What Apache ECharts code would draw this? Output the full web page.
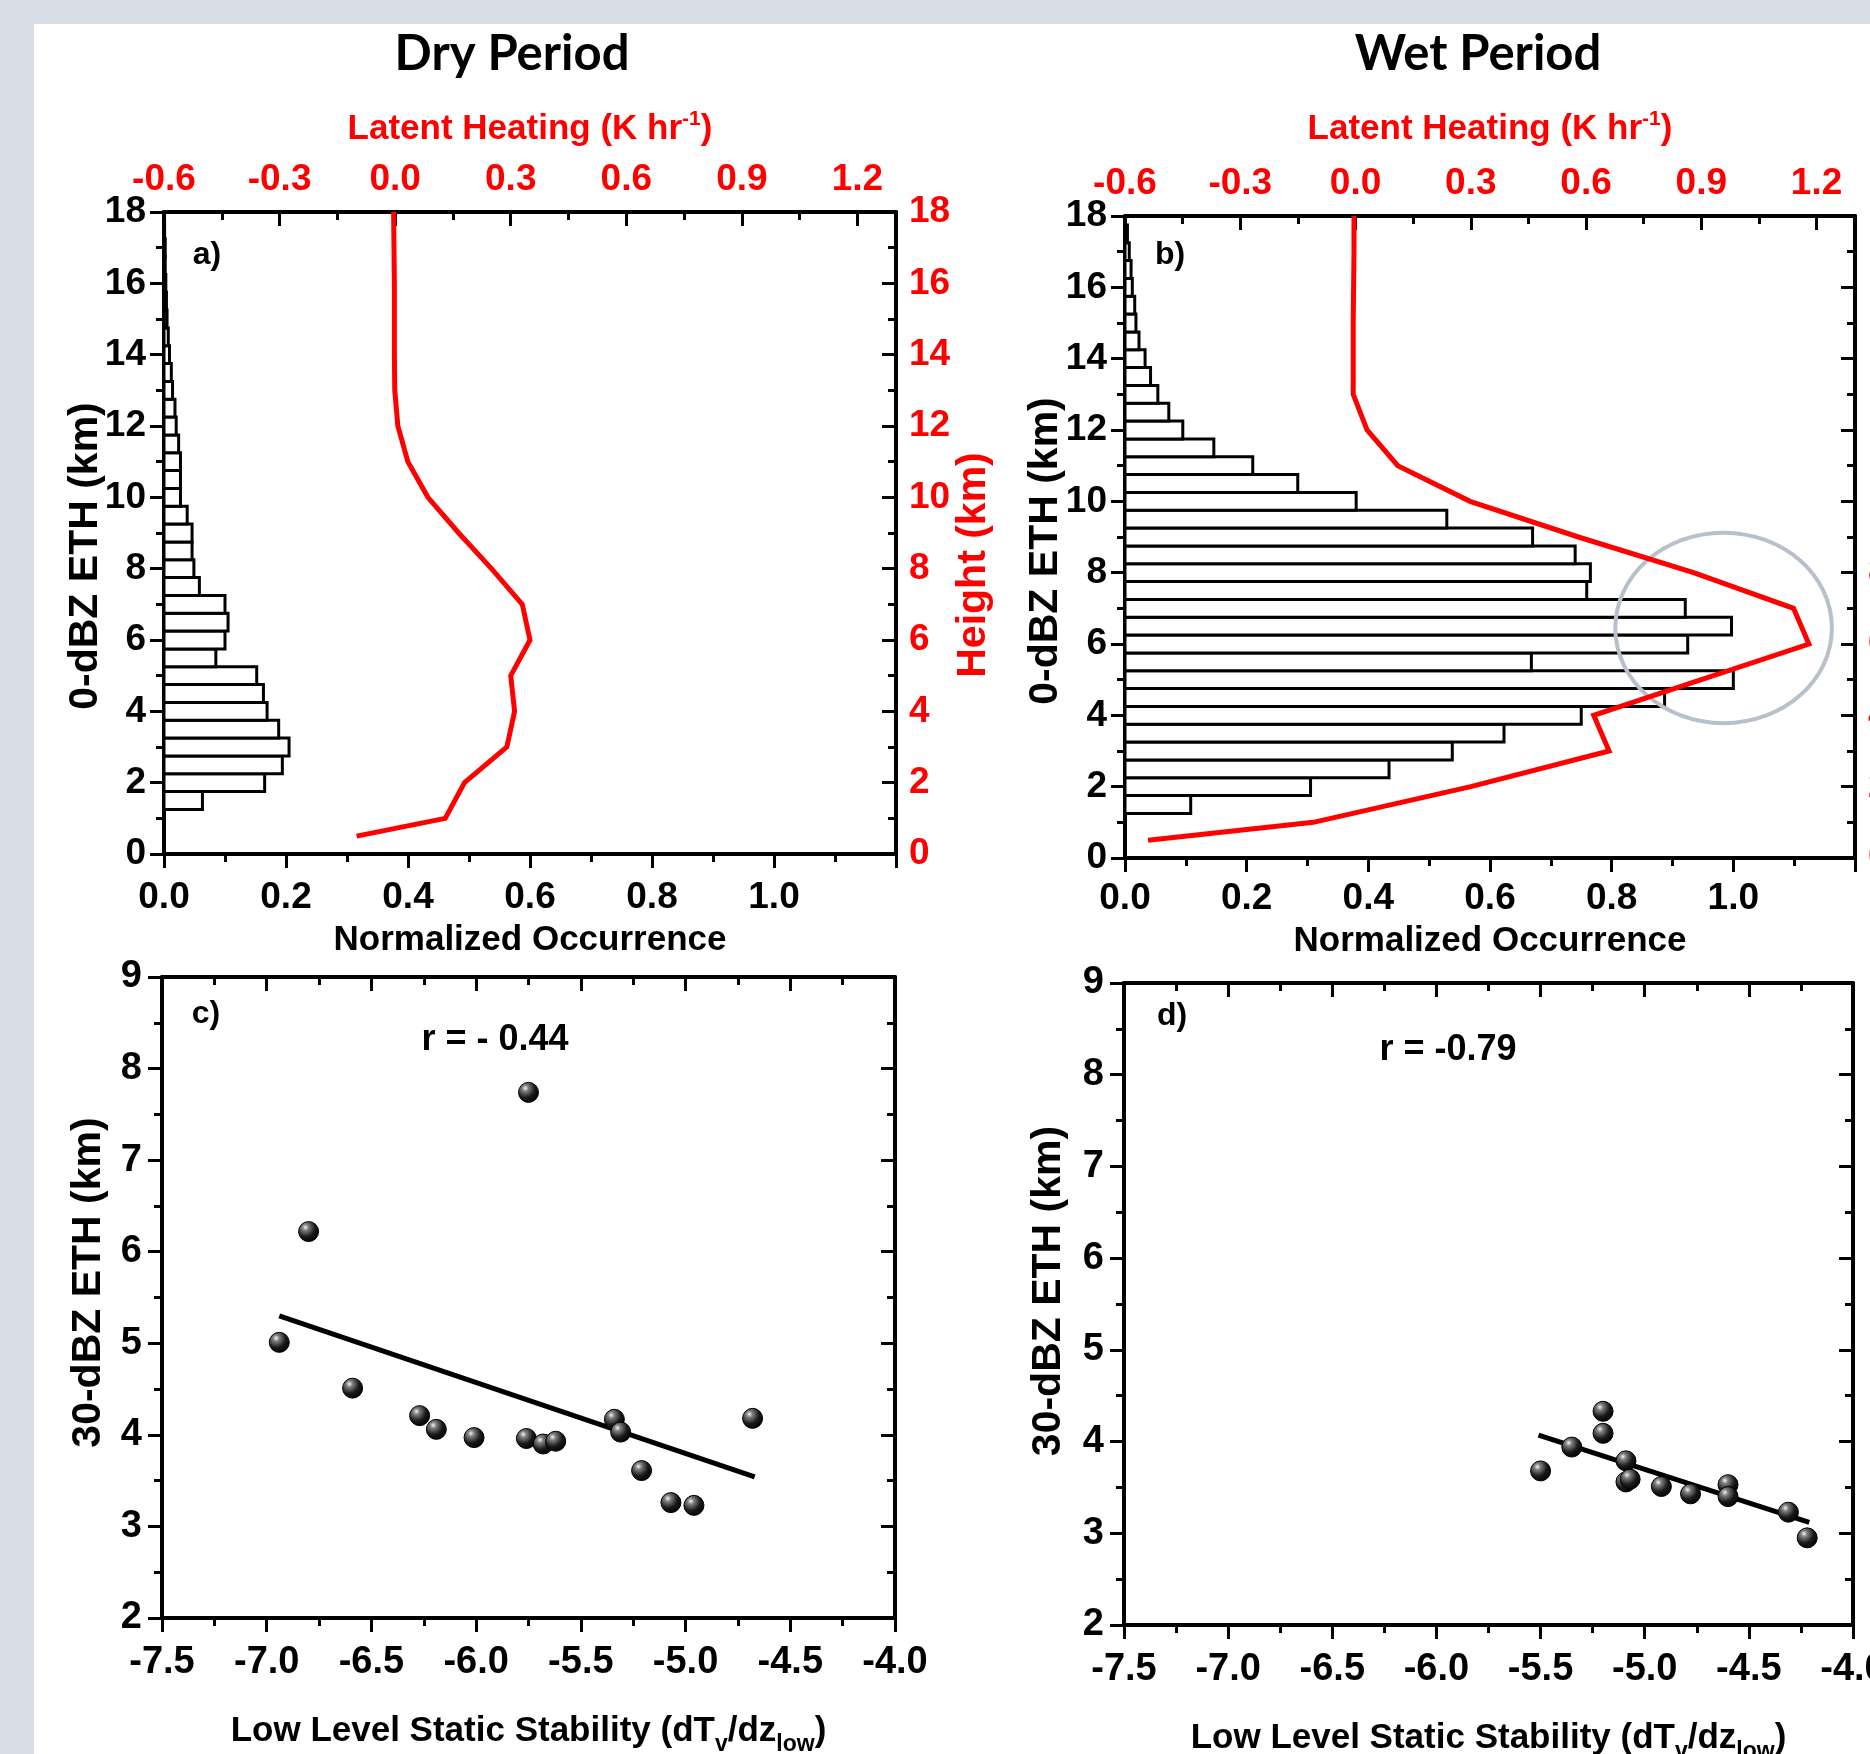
<!DOCTYPE html>
<html>
<head>
<meta charset="utf-8">
<script src="https://cdn.jsdelivr.net/npm/echarts@6/dist/echarts.min.js"></script>
<style>
  body { margin: 0; }
  #wrap { position: relative; width: 1870px; height: 1754px; background: #d9dee6; overflow: hidden; }
  #sheet { position: absolute; left: 34px; top: 24px; right: 0; bottom: 0; background: #ffffff; }
  #main { position: absolute; left: 0; top: 0; width: 1870px; height: 1754px; }
</style>
</head>
<body>
<div id="wrap">
  <div id="sheet"></div>
  <div id="main"></div>
</div>
<script>
// 0-dBZ echo-top height bins (km, bin centres) and normalized occurrence
const binCenters = [1.5, 2.0, 2.5, 3.0, 3.5, 4.0, 4.5, 5.0, 5.5, 6.0, 6.5, 7.0, 7.5, 8.0, 8.5, 9.0, 9.5,
  10.0, 10.5, 11.0, 11.5, 12.0, 12.5, 13.0, 13.5, 14.0, 14.5, 15.0, 15.5, 16.0, 16.5, 17.0, 17.5];
const binHalfWidth = 0.25;
const dryOccurrence = [0.063, 0.165, 0.194, 0.205, 0.188, 0.169, 0.163, 0.152, 0.085, 0.100, 0.105, 0.100, 0.058,
  0.049, 0.046, 0.046, 0.038, 0.027, 0.027, 0.027, 0.024, 0.020, 0.018, 0.014, 0.012, 0.009, 0.007, 0.005,
  0.004, 0.003, 0.002, 0.002, 0.001];
const wetOccurrence = [0.108, 0.305, 0.434, 0.538, 0.623, 0.750, 0.887, 1.000, 0.668, 0.925, 0.997, 0.921, 0.759,
  0.765, 0.740, 0.670, 0.529, 0.380, 0.284, 0.210, 0.146, 0.095, 0.072, 0.054, 0.042, 0.033, 0.023, 0.018,
  0.016, 0.012, 0.010, 0.007, 0.004];

// latent heating profiles (K/hr) against height (km)
const heatingLevels = [0.5, 1, 2, 3, 4, 5, 6, 7, 8, 9, 10, 11, 12, 13, 14, 15, 16, 17, 18];
const dryLatentHeating = [-0.10, 0.13, 0.18, 0.29, 0.31, 0.30, 0.35, 0.33, 0.25, 0.165, 0.085, 0.033, 0.007,
  -0.001, -0.002, -0.002, -0.002, -0.003, -0.004];
const wetLatentHeating = [-0.54, -0.11, 0.30, 0.66, 0.62, 0.90, 1.18, 1.14, 0.88, 0.58, 0.298, 0.11, 0.03,
  -0.006, -0.006, -0.006, -0.005, -0.004, -0.004];

// highlighted region in panel b: centre [occurrence, km] and radii
const ellipseCenter = [0.984, 6.45];
const ellipseRadius = [0.178, 2.67];

// 30-dBZ ETH vs low level static stability
const dryStability = [-6.94, -6.80, -6.59, -6.27, -6.19, -6.01, -5.75, -5.76, -5.68, -5.62, -5.34, -5.31, -5.21, -5.07, -4.96, -4.68];
const dryEth30 = [5.01, 6.22, 4.51, 4.21, 4.06, 3.97, 7.74, 3.96, 3.90, 3.93, 4.17, 4.03, 3.61, 3.26, 3.23, 4.18];
const wetStability = [-5.50, -5.35, -5.20, -5.20, -5.09, -5.09, -5.07, -4.92, -4.78, -4.60, -4.60, -4.31, -4.22];
const wetEth30 = [3.68, 3.94, 4.33, 4.09, 3.79, 3.56, 3.59, 3.51, 3.43, 3.53, 3.40, 3.23, 2.95];
const dryFitX = [-6.94, -4.67];
const dryFitY = [5.30, 3.54];
const wetFitX = [-5.51, -4.21];
const wetFitY = [4.07, 3.12];

const narrow = "'Liberation Sans Narrow', 'Arial Narrow', 'Liberation Sans', sans-serif";
const wide = "'Liberation Sans', Arial, sans-serif";
const red = '#ff0000';

const makeAxis = o => ({
  type: 'value',
  gridIndex: o.grid,
  position: o.position,
  min: o.min,
  max: o.max,
  interval: o.interval,
  name: o.name || '',
  nameLocation: 'middle',
  nameGap: o.nameGap || 0,
  nameRotate: o.nameRotate,
  nameMoveOverlap: false,
  nameTextStyle: o.nameStyle,
  axisLine: { onZero: false, lineStyle: { color: '#000', width: 4 } },
  axisTick: { inside: !!o.inside, length: 14, lineStyle: { color: '#000', width: 3 } },
  minorTick: { show: true, splitNumber: 2, length: 8, lineStyle: { color: '#000', width: 3 } },
  splitLine: { show: false },
  axisLabel: {
    show: o.labels !== false,
    color: o.color || '#000',
    fontFamily: narrow,
    fontWeight: 'bold',
    fontSize: o.fontSize || 37,
    margin: o.margin || 18,
    showMaxLabel: o.hideMax ? false : null,
    formatter: v => v.toFixed(o.digits || 0)
  }
});

const heatingName = {
  rich: {
    t: { fontFamily: narrow, fontWeight: 'bold', fontSize: 35, color: red, lineHeight: 40 },
    sup: { fontFamily: narrow, fontWeight: 'bold', fontSize: 21, color: red, verticalAlign: 'top', lineHeight: 22 }
  }
};
const stabilityName = {
  rich: {
    t: { fontFamily: narrow, fontWeight: 'bold', fontSize: 35, color: '#000', lineHeight: 40 },
    sub: { fontFamily: narrow, fontWeight: 'bold', fontSize: 23, color: '#000', verticalAlign: 'top', padding: [26, 0, 0, 0] }
  }
};
const occName = { fontFamily: narrow, fontWeight: 'bold', fontSize: 35, color: '#000', lineHeight: 40 };
// padding slides a rotated name along its axis (right side = down, left side = up)
const ethName = pad => ({ fontFamily: wide, fontWeight: 'bold', fontSize: 41, color: '#000', lineHeight: 44, padding: pad });
const heightName = { fontFamily: wide, fontWeight: 'bold', fontSize: 41, color: red, lineHeight: 44, padding: [0, 64, 0, 0] };

const profileAxes = (g, p) => ({
  x: [
    makeAxis({ grid: g, position: 'bottom', min: 0, max: 1.2, interval: 0.2, digits: 1, hideMax: true, margin: p.labelMargin,
      name: 'Normalized Occurrence', nameGap: p.bottomGap, nameStyle: occName }),
    makeAxis({ grid: g, position: 'top', min: -0.6, max: 1.3, interval: 0.3, digits: 1, hideMax: true,
      inside: true, color: red, margin: 14,
      name: '{t|Latent Heating (K hr}{sup|-1}{t|)}', nameGap: p.topGap, nameStyle: heatingName })
  ],
  y: [
    makeAxis({ grid: g, position: 'left', min: 0, max: 18, interval: 2,
      name: '0-dBZ ETH (km)', nameGap: p.leftGap, nameRotate: 90, nameStyle: ethName(p.namePad) }),
    makeAxis({ grid: g, position: 'right', min: 0, max: 18, interval: 2, inside: true, color: red, margin: 13,
      name: 'Height (km)', nameGap: 56, nameRotate: 90, nameStyle: heightName })
  ]
});

const scatterAxes = (g, p) => ({
  x: [
    makeAxis({ grid: g, position: 'bottom', min: -7.5, max: -4.0, interval: 0.5, digits: 1, fontSize: 38, margin: 26,
      name: '{t|Low Level Static Stability (dT}{sub|v}{t|/dz}{sub|low}{t|)}', nameGap: 89, nameStyle: stabilityName }),
    makeAxis({ grid: g, position: 'top', min: -7.5, max: -4.0, interval: 0.5, inside: true, labels: false })
  ],
  y: [
    makeAxis({ grid: g, position: 'left', min: 2, max: 9, interval: 1, fontSize: 38, margin: 20,
      name: '30-dBZ ETH (km)', nameGap: p.leftGap, nameRotate: 90, nameStyle: ethName(p.namePad) }),
    makeAxis({ grid: g, position: 'right', min: 2, max: 9, interval: 1, inside: true, labels: false })
  ]
});

const axesA = profileAxes(0, { labelMargin: 25, bottomGap: 66, topGap: 63, leftGap: 56, namePad: [0, 46, 0, 0] });
const axesB = profileAxes(1, { labelMargin: 22, bottomGap: 63, topGap: 67, leftGap: 57, namePad: [0, 28, 0, 0] });
const axesC = scatterAxes(2, { leftGap: 51, namePad: [0, 0, 0, 30] });
const axesD = scatterAxes(3, { leftGap: 53, namePad: [0, 0, 0, 26] });

function renderBin(params, api) {
  const occ = api.value(0);
  const km = api.value(1);
  const p0 = api.coord([0, km + binHalfWidth]);
  const p1 = api.coord([occ, km - binHalfWidth]);
  return {
    type: 'rect',
    shape: { x: p0[0], y: p0[1], width: p1[0] - p0[0], height: p1[1] - p0[1] },
    style: { fill: '#ffffff', stroke: '#000', lineWidth: 3 }
  };
}

function renderEllipse(params, api) {
  const c = api.coord([api.value(0), api.value(1)]);
  const s = api.size([api.value(2), api.value(3)]);
  return {
    type: 'ellipse',
    shape: { cx: c[0], cy: c[1], rx: s[0], ry: s[1] },
    style: { fill: 'none', stroke: '#b8c0cc', lineWidth: 4 }
  };
}

const sphere = new echarts.graphic.RadialGradient(0.35, 0.3, 0.75, [
  { offset: 0, color: '#f4f4f4' },
  { offset: 0.2, color: '#808080' },
  { offset: 0.6, color: '#1a1a1a' },
  { offset: 1, color: '#000000' }
]);

const pairs = (xs, ys) => xs.map((x, i) => [x, ys[i]]);

const heatingLine = (xi, yi, values) => ({
  type: 'line', xAxisIndex: xi, yAxisIndex: yi,
  data: pairs(values, heatingLevels),
  symbol: 'none',
  lineStyle: { color: red, width: 5, join: 'miter' },
  z: 4
});

const fitLine = (xi, yi, xs, ys) => ({
  type: 'line', xAxisIndex: xi, yAxisIndex: yi,
  data: pairs(xs, ys),
  symbol: 'none',
  lineStyle: { color: '#000', width: 5 },
  z: 3
});

const dots = (xi, yi, xs, ys) => ({
  type: 'scatter', xAxisIndex: xi, yAxisIndex: yi,
  data: pairs(xs, ys),
  symbolSize: 20,
  itemStyle: { color: sphere, borderColor: '#000', borderWidth: 1, opacity: 1 },
  z: 5
});

const label = (x, y, text, size, family) => ({
  type: 'text', x, y,
  style: { text, fill: '#000', font: 'bold ' + size + 'px ' + family, align: 'center', verticalAlign: 'middle' }
});

const chart = echarts.init(document.getElementById('main'));
chart.setOption({
  animation: false,
  grid: [
    { left: 164, top: 212, width: 732, height: 642, outerBoundsMode: 'none' },
    { left: 1125, top: 216, width: 730, height: 642, outerBoundsMode: 'none' },
    { left: 162, top: 977, width: 733, height: 641, outerBoundsMode: 'none' },
    { left: 1124, top: 983, width: 729, height: 642, outerBoundsMode: 'none' }
  ],
  xAxis: [...axesA.x, ...axesB.x, ...axesC.x, ...axesD.x],
  yAxis: [...axesA.y, ...axesB.y, ...axesC.y, ...axesD.y],
  graphic: [
    label(512, 54, 'Dry Period', 49, 'Lato'),
    label(1478, 54, 'Wet Period', 49, 'Lato'),
    label(207, 255, 'a)', 32, narrow),
    label(1170, 255, 'b)', 32, narrow),
    label(206, 1014, 'c)', 32, narrow),
    label(1172, 1016, 'd)', 32, narrow),
    label(495, 1040, 'r = - 0.44', 36, narrow),
    label(1448, 1050, 'r = -0.79', 36, narrow)
  ],
  series: [
    { type: 'custom', xAxisIndex: 0, yAxisIndex: 0, renderItem: renderBin,
      encode: { x: 0, y: 1 }, data: pairs(dryOccurrence, binCenters), z: 2 },
    heatingLine(1, 1, dryLatentHeating),
    { type: 'custom', xAxisIndex: 2, yAxisIndex: 2, renderItem: renderBin,
      encode: { x: 0, y: 1 }, data: pairs(wetOccurrence, binCenters), z: 2 },
    { type: 'custom', xAxisIndex: 2, yAxisIndex: 2, renderItem: renderEllipse,
      encode: { x: 0, y: 1 }, data: [[...ellipseCenter, ...ellipseRadius]], z: 3 },
    heatingLine(3, 3, wetLatentHeating),
    fitLine(4, 4, dryFitX, dryFitY),
    dots(4, 4, dryStability, dryEth30),
    fitLine(6, 6, wetFitX, wetFitY),
    dots(6, 6, wetStability, wetEth30)
  ]
});
</script>
</body>
</html>
